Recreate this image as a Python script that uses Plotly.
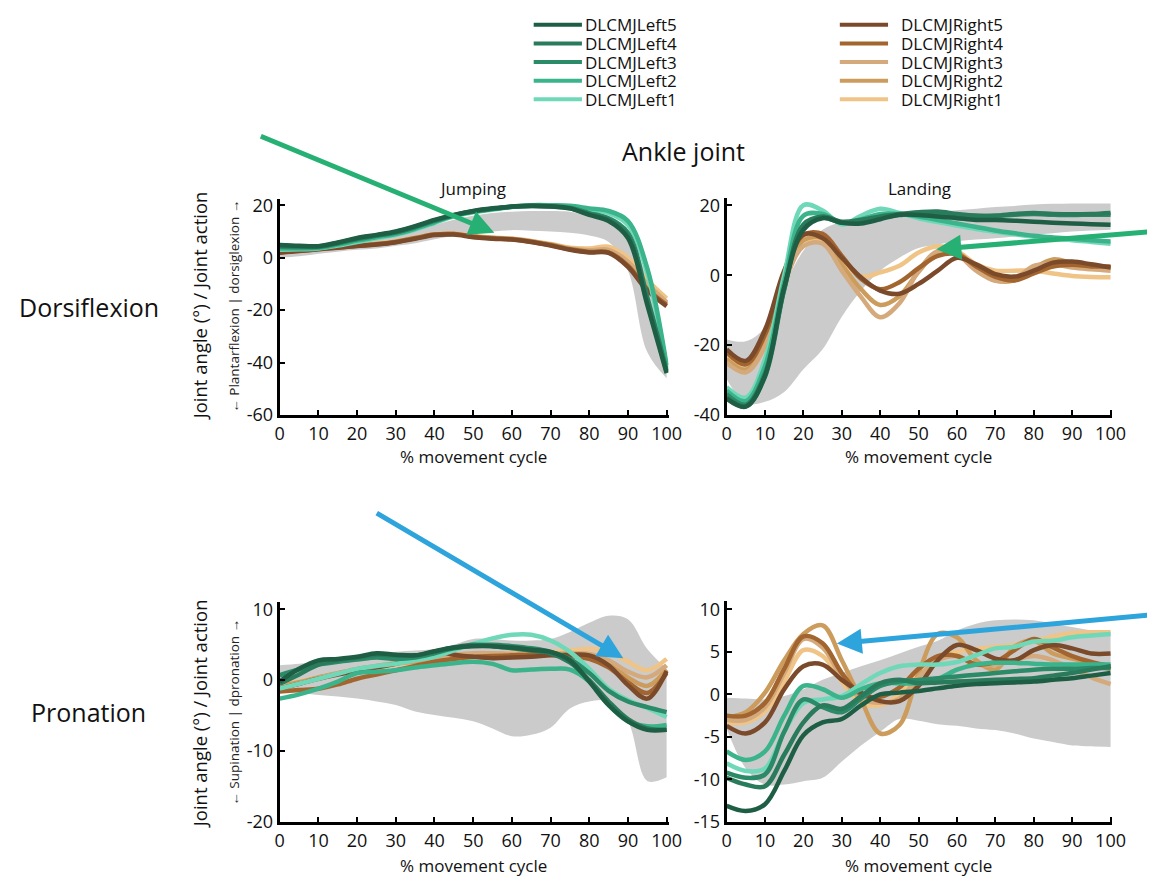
import plotly.graph_objects as go

# page geometry (browser body margin of 8px is compensated)
PAGE_W, PAGE_H = 1155, 885
OFF = 8
W, H = PAGE_W - OFF, PAGE_H - OFF
FONT = "Open Sans"

# ---------------- data ----------------
X = [0, 5, 10, 15, 20, 25, 30, 35, 40, 45, 50, 55, 60, 65, 70, 75, 80, 85, 90, 95, 100]
X_TICKS = [0, 10, 20, 30, 40, 50, 60, 70, 80, 90, 100]

NAMES_LEFT = ["DLCMJLeft5", "DLCMJLeft4", "DLCMJLeft3", "DLCMJLeft2", "DLCMJLeft1"]
NAMES_RIGHT = ["DLCMJRight5", "DLCMJRight4", "DLCMJRight3", "DLCMJRight2", "DLCMJRight1"]
COLORS_LEFT = ["#1d5e45", "#2a7a5c", "#2b8a68", "#3bb38b", "#6fd8b8"]
COLORS_RIGHT = ["#7b4a2a", "#a3652f", "#d4a97c", "#cc9c5c", "#efc486"]

# Dorsiflexion - Jumping
dj_band_low = [0, 0.5, 1.5, 2.3, 3, 3.5, 4.5, 5.5, 7, 8.5, 9.5, 10, 10.5, 10.3, 10, 9.5, 8.5, 6, -5, -36, -46]
dj_band_up = [2.5, 3, 4, 5, 6, 7, 8.5, 10.5, 12.5, 14.5, 16, 17, 17.5, 17.8, 17.8, 17.5, 16, 13.5, 8, -8, -38]
dj_left5 = [4.8, 4.5, 4.4, 5.8, 7.5, 8.7, 10, 12, 14.4, 16.3, 17.8, 18.8, 19.5, 19.8, 19.6, 18.8, 16.3, 14, 7.5, -18, -44]
dj_left4 = [4.5, 4.3, 4.2, 5.6, 7.3, 8.5, 9.8, 11.8, 14.2, 16.2, 17.7, 18.7, 19.4, 19.7, 19.5, 18.8, 16.6, 14.5, 8.5, -16, -43.5]
dj_left3 = [4.2, 4, 4.1, 5.4, 7, 8.3, 9.6, 11.6, 14, 16.1, 17.6, 18.6, 19.4, 19.7, 19.6, 19, 17, 15, 9.5, -15, -43]
dj_left2 = [3.5, 3.5, 3.8, 5, 6.5, 7.8, 9, 11, 13.5, 16, 17.5, 18.5, 19.5, 20, 20, 19.8, 18.8, 17.8, 14, -4, -41]
dj_left1 = [3, 3.2, 3.5, 4.6, 6, 7.4, 8.7, 10.7, 13.2, 15.8, 17.3, 18.3, 19.3, 19.8, 19.8, 19.5, 18.3, 17, 12.5, -6, -42]
dj_right5 = [1.9, 2.5, 3.2, 3.8, 4.4, 5, 5.9, 7.2, 8.6, 8.8, 7.8, 7.2, 6.9, 6, 4.6, 3, 2, 1.8, -3.5, -12.5, -18.5]
dj_right4 = [2, 2.6, 3.3, 3.9, 4.5, 5.1, 6, 7.4, 8.8, 9, 8, 7.4, 7, 6.1, 4.8, 3.2, 2.2, 2, -3, -12, -18]
dj_right3 = [2.3, 2.8, 3.4, 4, 4.6, 5.2, 6.1, 7.5, 8.8, 9.1, 8.1, 7.5, 7.1, 6.3, 5, 3.5, 2.8, 3, -1.5, -10, -17]
dj_right2 = [2.2, 2.7, 3.4, 4, 4.6, 5.2, 6.1, 7.5, 8.8, 9, 8.1, 7.5, 7.1, 6.2, 4.9, 3.3, 2.5, 2.5, -2.5, -11, -17.5]
dj_right1 = [2.5, 3, 3.6, 4.2, 4.8, 5.4, 6.3, 7.6, 8.9, 9.2, 8.3, 7.7, 7.3, 6.4, 5.2, 3.8, 3.5, 4.2, 0, -8.5, -15.5]

# Dorsiflexion - Landing
dl_band_low = [-29.7, -36.7, -36.2, -33.4, -26.9, -21.2, -11.9, -4.4, 1.3, 5, 7.8, 8.8, 9.7, 10.2, 10.6, 11.1, 11.6, 12, 12.5, 12.8, 13]
dl_band_up = [-18.4, -18.9, -15, -3, 7, 13, 15.3, 16.2, 17, 17.5, 17.8, 18.2, 18.6, 19, 19.5, 19.8, 20.2, 20.4, 20.5, 20.5, 20.5]
dl_left5 = [-35.3, -37.6, -28.7, -3.4, 13, 16.3, 15, 14.8, 16, 17.3, 17.2, 16.8, 16.3, 15.8, 15.8, 15.6, 15.3, 15, 14.8, 14.6, 14.4]
dl_left4 = [-35, -37.5, -29, -4, 14.5, 16.8, 15.3, 15.8, 16.8, 17.5, 18, 18.2, 17.5, 17, 17, 17.5, 17.8, 17.5, 17.4, 17.5, 17.8]
dl_left3 = [-34, -37, -28, -4, 14, 16.5, 15, 15.5, 16.5, 17.2, 17.8, 17.8, 17.3, 17, 17, 17.3, 17.5, 17.3, 17.2, 17.3, 17.3]
dl_left2 = [-33, -36, -26, -2, 17, 17.5, 15, 16, 17.5, 17.5, 16.8, 15.8, 14.8, 13.8, 12.8, 12, 11.3, 10.8, 10.4, 10, 9.6]
dl_left1 = [-32, -35, -24, 0, 20, 18.5, 14.5, 17, 19, 17.8, 16.3, 15.2, 14.2, 13.2, 12.4, 11.7, 11, 10.4, 10, 9.5, 9]
dl_right5 = [-21.2, -24.5, -15.6, 1.3, 11.6, 10.6, 5, -0.6, -4.4, -5.3, -2.5, 1.3, 5, 3.1, 0.3, -0.4, 1.3, 3.6, 3.9, 3.1, 2.2]
dl_right4 = [-22, -25.5, -17, 0, 11.5, 11.8, 5.5, -1, -4, -2, 2, 5.5, 6, 2.5, -0.5, -1.5, 0.5, 2.5, 3, 2.5, 2.5]
dl_right3 = [-25, -27.8, -20.3, -2.5, 8.3, 9, 1.3, -6.2, -12, -8, 1.3, 6.9, 5.9, 1.3, -1.6, -1.1, 2.7, 3.1, 2.2, 1.7, 1.3]
dl_right2 = [-24, -27, -19, -1.5, 10, 10.5, 3, -4, -8.5, -6, 1, 6.5, 6.5, 2, -1.5, -1.5, 2, 4.5, 3.5, 2.5, 2]
dl_right1 = [-23, -26.9, -17.5, -0.6, 9.7, 9.2, 4, -0.3, 0.8, 2.7, 6.5, 8.3, 6.9, 3.1, 1.3, 1.3, 1.3, 0.5, -0.2, -0.5, -0.6]

# Pronation - Jumping
pj_band_low = [-1.6, -1.8, -2.1, -2.3, -2.6, -3, -3.5, -4.4, -4.9, -5.3, -5.8, -6.8, -7.9, -7.7, -6.7, -4, -3, -3, -5.8, -14.2, -13.7]
pj_band_up = [2.1, 2.3, 2.6, 2.8, 3, 3.5, 4, 4.2, 4.4, 5, 5.8, 5.8, 5.6, 5.6, 5.8, 6.8, 8.1, 9.1, 8.6, 4.4, 1.6]
pj_left5 = [-0.2, 1.6, 2.8, 3, 3.3, 3.8, 3.6, 3.5, 4.1, 4.6, 4.8, 4.8, 4.6, 4.3, 4, 2.8, -0.2, -3.5, -5.8, -7, -7]
pj_left4 = [-0.5, 0.8, 2.2, 2.8, 3.2, 3.6, 3.5, 3.5, 4, 4.6, 5, 4.8, 4.5, 4.2, 3.8, 2.5, 0, -3, -5.5, -6.8, -7]
pj_left3 = [0.7, 1.5, 2.2, 2.6, 2.9, 3.2, 3, 3.2, 3.8, 4.5, 4.9, 5, 4.8, 4.5, 4, 3, 1, -1.5, -3, -3.8, -4.5]
pj_left2 = [-2.6, -2, -1.2, -0.2, 1, 1.2, 1.4, 1.8, 2.1, 2.4, 2.6, 2.3, 1.4, 1.5, 1.6, 1.5, -0.2, -3.5, -5.8, -6.5, -6.3]
pj_left1 = [-1.2, -0.5, 0.2, 0.9, 1.6, 2, 2.3, 2.8, 3.3, 4.2, 5.1, 5.9, 6.4, 6.4, 5.6, 4, 1.6, -1.2, -2.8, -3.9, -5.2]
pj_right5 = [-1.2, -0.5, 0.2, 0.8, 1.3, 1.8, 2.3, 3, 4, 3.6, 3.3, 3.1, 3.2, 3.3, 3.5, 3.6, 3.5, 2.1, -0.7, -2.6, 1.3]
pj_right4 = [-1.6, -1.4, -1.2, -0.6, 0.2, 0.8, 1.4, 2, 2.6, 3, 3.3, 3.4, 3.5, 3.6, 3.6, 3.4, 3, 1.8, -0.3, -1.8, 1]
pj_right3 = [-1, -0.5, 0.3, 0.9, 1.4, 1.8, 2.3, 2.8, 3.3, 3.6, 3.8, 3.8, 3.7, 3.7, 3.7, 3.8, 3.7, 2.8, 1.2, 0.4, 2.1]
pj_right2 = [-0.9, -0.3, 0.4, 1, 1.6, 2, 2.4, 2.6, 2.8, 3, 3.3, 3.5, 3.6, 3.6, 3.6, 3.7, 3.5, 2.3, 0.4, -0.8, 1.5]
pj_right1 = [-0.7, -0.2, 0.4, 0.9, 1.4, 1.8, 2.2, 2.5, 2.8, 3.1, 3.4, 3.6, 3.8, 3.9, 4, 4.2, 4.4, 4, 2.6, 1.4, 3]

# Pronation - Landing
pl_band_low = [-4, -8.7, -10.6, -10.6, -10.2, -9.8, -7.9, -6, -4.4, -2.9, -3.1, -3.5, -3.7, -4, -4.2, -4.6, -5.2, -5.6, -6, -6.1, -6.2]
pl_band_up = [-0.4, -0.5, -0.6, -0.2, 0.6, 1.7, 2.5, 3.3, 4, 4.8, 5.6, 6.3, 7.5, 8.3, 8.7, 8.8, 8.7, 8.3, 7.9, 7.5, 7.3]
pl_left5 = [-13.1, -13.7, -12.9, -9, -4.8, -3.3, -2.9, -1.3, 0, 0.2, 0.4, 0.7, 1, 1.2, 1.3, 1.4, 1.5, 1.7, 1.9, 2.2, 2.5]
pl_left4 = [-9.8, -10.6, -10.8, -7.1, -3.3, -1.3, -1.7, -0.2, 1.3, 1.7, 1.3, 1.4, 1.5, 1.6, 1.7, 1.8, 1.9, 2.2, 2.5, 2.9, 3.3]
pl_left3 = [-9.2, -9.8, -9.4, -4.4, -0.6, -1.5, -2.1, -0.5, 1, 1.5, 1.7, 1.9, 2.1, 2.3, 2.5, 2.7, 2.9, 3, 3, 3.1, 3.1]
pl_left2 = [-6.7, -7.7, -6.7, -2.5, 1, 0.6, -0.4, 0.6, 1.3, 1.3, 1.3, 1.8, 2.9, 3.5, 3.7, 3.7, 3.6, 3.5, 3.5, 3.5, 3.5]
pl_left1 = [-8.1, -9, -8.7, -4.4, -1, -0.6, -0.2, 1.2, 2.5, 3.3, 3.5, 3.5, 3.8, 4.6, 5.4, 5.6, 6.2, 6.3, 6.7, 6.9, 7.1]
pl_right5 = [-3.7, -4.6, -3.3, 0.6, 3.3, 3.5, 1.7, 0.2, -0.8, -0.8, 1, 4, 5.8, 5.2, 4.2, 4, 5.2, 5.8, 5.4, 4.8, 4.8]
pl_right4 = [-2.5, -2.5, -1, 3, 6.8, 6, 2.5, 0, -0.3, 0.8, 3, 4.5, 4.5, 3.5, 3.8, 5.2, 6.5, 5.5, 4.5, 3.8, 3.3]
pl_right3 = [-3, -3, -1.5, 2.5, 6.5, 5.5, 2, -0.5, -1, -0.5, 2, 4, 4.5, 3.5, 3.5, 4, 4.5, 4, 3, 2, 1.2]
pl_right2 = [-2.7, -2.1, 0.2, 4, 7.1, 8.1, 4, -0.6, -4.6, -3.6, 2.5, 7.1, 6.7, 4, 2.9, 5.6, 6.3, 4.8, 4.2, 3.7, 2.9]
pl_right1 = [-3.3, -3.3, -2, 1.5, 5.2, 4.5, 1.5, -1, -1.3, 0, 2.5, 4.2, 5, 5.3, 5.6, 5.8, 6.2, 6.8, 7.2, 7.3, 7.3]

PANELS = [
    dict(xa="x", ya="y", band=(dj_band_low, dj_band_up),
         left=[dj_left5, dj_left4, dj_left3, dj_left2, dj_left1],
         right=[dj_right5, dj_right4, dj_right3, dj_right2, dj_right1]),
    dict(xa="x2", ya="y2", band=(dl_band_low, dl_band_up),
         left=[dl_left5, dl_left4, dl_left3, dl_left2, dl_left1],
         right=[dl_right5, dl_right4, dl_right3, dl_right2, dl_right1]),
    dict(xa="x3", ya="y3", band=(pj_band_low, pj_band_up),
         left=[pj_left5, pj_left4, pj_left3, pj_left2, pj_left1],
         right=[pj_right5, pj_right4, pj_right3, pj_right2, pj_right1]),
    dict(xa="x4", ya="y4", band=(pl_band_low, pl_band_up),
         left=[pl_left5, pl_left4, pl_left3, pl_left2, pl_left1],
         right=[pl_right5, pl_right4, pl_right3, pl_right2, pl_right1]),
]

Y_TICKS = [
    [-60, -40, -20, 0, 20],
    [-40, -20, 0, 20],
    [-20, -10, 0, 10],
    [-15, -10, -5, 0, 5, 10],
]
Y_RANGES = [[-60, 22.5], [-40, 22], [-20, 11], [-15, 11]]

# ---------------- figure ----------------
fig = go.Figure()

for p in PANELS:
    lo, up = p["band"]
    fig.add_trace(go.Scatter(x=X, y=lo, xaxis=p["xa"], yaxis=p["ya"], mode="lines",
                             line=dict(width=0, shape="spline"), showlegend=False, hoverinfo="skip"))
    fig.add_trace(go.Scatter(x=X, y=up, xaxis=p["xa"], yaxis=p["ya"], mode="lines", fill="tonexty",
                             fillcolor="#cbcbcb", line=dict(width=0, shape="spline"),
                             showlegend=False, hoverinfo="skip"))
    for i in range(4, -1, -1):
        fig.add_trace(go.Scatter(x=X, y=p["right"][i], xaxis=p["xa"], yaxis=p["ya"], mode="lines",
                                 name=NAMES_RIGHT[i], line=dict(color=COLORS_RIGHT[i], width=4.5, shape="spline"),
                                 showlegend=False))
    for i in range(4, -1, -1):
        fig.add_trace(go.Scatter(x=X, y=p["left"][i], xaxis=p["xa"], yaxis=p["ya"], mode="lines",
                                 name=NAMES_LEFT[i], line=dict(color=COLORS_LEFT[i], width=4.5, shape="spline"),
                                 showlegend=False))


def px_x(v):
    return (v - OFF) / W


def px_y(v):
    return 1 - (v - OFF) / H


axis_common = dict(showline=True, linecolor="black", linewidth=3, ticks="inside", ticklen=5,
                   tickwidth=2, tickcolor="black", showgrid=False, zeroline=False,
                   tickfont=dict(family=FONT, size=18, color="#111"))

x_px = [(279, 674), (733, 1125), (279, 674), (733, 1125)]
y_bottom_px = [417, 417, 832, 832]
y_top_px = [196.3, 195.9, 607.8, 606.3]

layout_axes = {}
for k in range(4):
    sfx = "" if k == 0 else str(k + 1)
    layout_axes["xaxis" + sfx] = dict(axis_common, domain=[px_x(x_px[k][0]), px_x(x_px[k][1])],
                                      range=[0, 100.5], tickvals=X_TICKS,
                                      ticktext=[str(t) for t in X_TICKS], anchor="y" + sfx)
    layout_axes["yaxis" + sfx] = dict(axis_common, domain=[px_y(y_bottom_px[k]), px_y(y_top_px[k])],
                                      range=Y_RANGES[k], tickvals=Y_TICKS[k],
                                      ticktext=[str(t) for t in Y_TICKS[k]], anchor="x" + sfx)

fig.update_layout(**layout_axes)

TXT = "#111"
ann = []


def text(x, y, s, size, angle=0, color=TXT):
    ann.append(dict(x=px_x(x), y=px_y(y), xref="paper", yref="paper", text=s, showarrow=False,
                    textangle=angle, xanchor="center", yanchor="middle",
                    font=dict(family=FONT, size=size, color=color)))


text(689, 148, "Ankle joint", 25)
text(475, 186, "Jumping", 17)
text(929, 186, "Landing", 17)
text(85, 307, "Dorsiflexion", 25)
text(85, 720, "Pronation", 25)
for xc in (476, 928):
    text(xc, 459, "% movement cycle", 17)
    text(xc, 876, "% movement cycle", 17)
text(197, 306, "Joint angle (°) / Joint action", 18.5, -90)
text(197, 722, "Joint angle (°) / Joint action", 18.5, -90)
text(233, 306, "← Plantarflexion | dorsiglexion →", 13.5, -90, "#222")
text(233, 720, "← Supination | dpronation →", 13.5, -90, "#222")

# arrows
GREEN = "#27b074"
BLUE = "#2ea4dc"


def arrow(hx, hy, tx, ty, color):
    ann.append(dict(x=px_x(hx), y=px_y(hy), xref="paper", yref="paper", text="", showarrow=True,
                    ax=tx - hx, ay=ty - hy, axref="pixel", ayref="pixel",
                    arrowhead=2, arrowsize=1, arrowwidth=5, arrowcolor=color, standoff=0))


arrow(497, 231, 262, 134, GREEN)
arrow(946, 248, 1165, 230, GREEN)
arrow(628, 665, 380, 519, BLUE)
arrow(845, 650, 1165, 621, BLUE)

# manual legend (two columns)
shapes = []
rows = [19, 38, 57, 76, 95]
for i in range(5):
    shapes.append(dict(type="line", xref="paper", yref="paper", x0=px_x(537), x1=px_x(586),
                       y0=px_y(rows[i]), y1=px_y(rows[i]), line=dict(color=COLORS_LEFT[i], width=4)))
    ann.append(dict(x=px_x(587), y=px_y(rows[i]), xref="paper", yref="paper", text=NAMES_LEFT[i],
                    showarrow=False, xanchor="left", yanchor="middle",
                    font=dict(family=FONT, size=17, color=TXT)))
    shapes.append(dict(type="line", xref="paper", yref="paper", x0=px_x(848), x1=px_x(897),
                       y0=px_y(rows[i]), y1=px_y(rows[i]), line=dict(color=COLORS_RIGHT[i], width=4)))
    ann.append(dict(x=px_x(908), y=px_y(rows[i]), xref="paper", yref="paper", text=NAMES_RIGHT[i],
                    showarrow=False, xanchor="left", yanchor="middle",
                    font=dict(family=FONT, size=17, color=TXT)))

fig.update_layout(width=W, height=H, margin=dict(l=0, r=0, t=0, b=0),
                  paper_bgcolor="white", plot_bgcolor="white", showlegend=False,
                  annotations=ann, shapes=shapes, font=dict(family=FONT))

fig.write_html("out.html")
